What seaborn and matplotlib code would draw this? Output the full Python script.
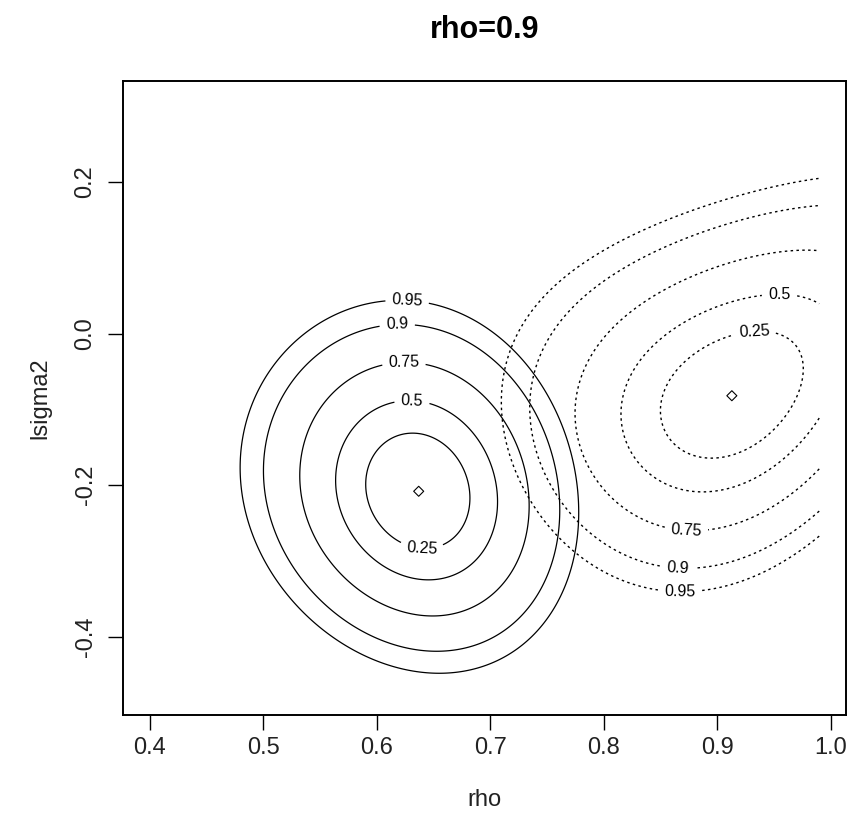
import numpy as np
import pandas as pd
import matplotlib
matplotlib.use("Agg")
import matplotlib.pyplot as plt
import seaborn as sns

sns.set_theme(style="white")
plt.rcParams["font.family"] = ["Liberation Sans", "DejaVu Sans"]

# Coverage probabilities of the likelihood-ratio regions (2 parameters)
prob_levels = [0.25, 0.5, 0.75, 0.9, 0.95]
prob_labels = ["0.25", "0.5", "0.75", "0.9", "0.95"]

# Evaluation window of the profile surfaces
rho_range = [0.40, 0.99]
lsigma2_range = [-0.472, 0.302]

# Fitted likelihood surfaces: centre (MLE), scale, and shape terms
# shape = (tilt, bend, skew in rho, skew in lsigma2)
solid_center = [0.637, -0.208]
solid_scale = [0.0605, 0.0996]
solid_shape = [-0.12, 0.0, 0.044, -0.02]

dotted_center = [0.913, -0.082]
dotted_scale = [0.083, 0.104]
dotted_shape = [0.35, 0.13, 0.0, -0.02]

# Where the contour labels sit
solid_label_pos = [(0.627, 0.047), (0.618, 0.014), (0.624, -0.041),
                   (0.631, -0.093), (0.640, -0.275)]
dotted_label_pos = [(0.955, 0.048), (0.933, -0.003), (0.873, -0.256),
                    (0.865, -0.308), (0.867, -0.340)]


def deviance(r, s, center, scale, shape):
    tilt, bend, sk_u, sk_z = shape
    u = (r - center[0]) / scale[0]
    w = (s - center[1]) / scale[1]
    z = w - tilt * u - bend * u ** 2
    return u ** 2 + sk_u * u ** 3 + z ** 2 + sk_z * z ** 3


levels = [-2.0 * np.log(1.0 - p) for p in prob_levels]
fmt = {lv: lab for lv, lab in zip(levels, prob_labels)}

rr, ss = np.meshgrid(np.linspace(rho_range[0], rho_range[1], 400),
                     np.linspace(lsigma2_range[0], lsigma2_range[1], 400))

fig = plt.figure(figsize=(8.5, 8.34), dpi=100)
ax = fig.add_axes([123 / 850, 1 - 715 / 834, (846 - 123) / 850, (715 - 81) / 834])

cs1 = ax.contour(rr, ss, deviance(rr, ss, solid_center, solid_scale, solid_shape),
                 levels=levels, colors="black", linewidths=0.9)
cs2 = ax.contour(rr, ss, deviance(rr, ss, dotted_center, dotted_scale, dotted_shape),
                 levels=levels, colors="black", linewidths=1.0)
cs2.set_linestyle([(0, (1.8, 2.4))])

ax.clabel(cs1, levels=levels, fmt=fmt, manual=solid_label_pos, inline=True,
          inline_spacing=8, fontsize=11.5)
ax.clabel(cs2, levels=levels, fmt=fmt, manual=dotted_label_pos, inline=True,
          inline_spacing=8, fontsize=11.5)

centers = pd.DataFrame({"rho": [solid_center[0], dotted_center[0]],
                        "lsigma2": [solid_center[1], dotted_center[1]]})
sns.scatterplot(data=centers, x="rho", y="lsigma2", marker="D", s=26, ax=ax,
                color="black", linewidth=0.8, legend=False)
ax.collections[-1].set_facecolor("none")
ax.collections[-1].set_edgecolor("black")

ax.set_xlim(0.3764, 1.0136)
ax.set_ylim(-0.503, 0.333)
ax.set_xticks([0.4, 0.5, 0.6, 0.7, 0.8, 0.9, 1.0])
ax.set_xticklabels(["0.4", "0.5", "0.6", "0.7", "0.8", "0.9", "1.0"])
ax.set_yticks([-0.4, -0.2, 0.0, 0.2])
ax.set_yticklabels(["-0.4", "-0.2", "0.0", "0.2"], rotation=90, va="center")

for sp in ax.spines.values():
    sp.set_visible(True)
    sp.set_color("black")
    sp.set_linewidth(1.4)

ax.tick_params(axis="both", direction="out", length=11, width=1.0,
               color="black", labelsize=17, labelcolor="#222222",
               bottom=True, left=True)
ax.tick_params(axis="x", pad=5)
ax.tick_params(axis="y", pad=8)

ax.set_xlabel("rho", fontsize=17, color="#222222")
ax.set_ylabel("lsigma2", fontsize=17, color="#222222")
ax.xaxis.set_label_coords(0.5, (715 - 800) / 634)
ax.xaxis.label.set_va("center")
ax.yaxis.set_label_coords((40 - 123) / 723, 0.5)
ax.yaxis.label.set_va("center")

fig.text(484.5 / 850, 1 - 30 / 834, "rho=0.9", ha="center", va="center",
         fontsize=22, fontweight="bold", color="black")

fig.savefig("out.png", dpi=100, facecolor="white")
